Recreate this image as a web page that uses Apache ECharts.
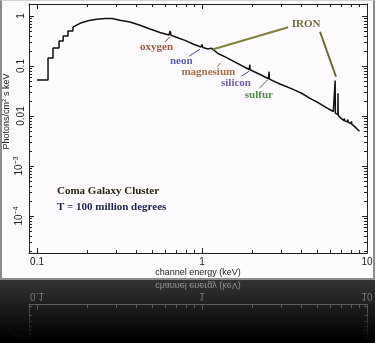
<!DOCTYPE html>
<html>
<head>
<meta charset="utf-8">
<script src="https://cdn.jsdelivr.net/npm/echarts@6/dist/echarts.min.js"></script>
<style>
    html, body { margin: 0; padding: 0; background: #000; }
    #wrap { position: relative; width: 375px; height: 343px; overflow: hidden; background: #000; }
    #panel { position: absolute; left: 0; top: 0; width: 375px; height: 280px; box-sizing: border-box;
        background: #fdfbfd; border: 2px solid #8c8c8c; border-top: 1px solid #d4d4d4; }
    #chart { position: absolute; left: 0; top: 0; width: 375px; height: 280px; }
    #refl { position: absolute; left: 0; top: 280px; width: 375px; height: 63px; overflow: hidden; background: #3a3a3a; }
    #chart2 { position: absolute; left: 0; top: -2px; width: 375px; height: 280px; transform: scaleY(-1); }
    #fade { position: absolute; left: 0; top: 0; width: 375px; height: 63px;
        background: linear-gradient(rgba(0, 0, 0, 0.1), rgba(0, 0, 0, 1) 95%); }
</style>
</head>
<body>
<div id="wrap">
    <div id="panel"></div>
    <div id="chart"></div>
    <div id="refl">
        <div id="chart2"></div>
        <div id="fade"></div>
    </div>
</div>
<script>
// 能谱数据 (keV, photons/cm2 s keV)
var spectrumEnergy = [
    0.100, 0.1166, 0.1166, 0.125, 0.125, 0.136, 0.136, 0.144, 0.144, 0.154, 0.154, 0.165, 0.165,
    0.182, 0.204, 0.230, 0.258, 0.285, 0.318, 0.366, 0.421, 0.484, 0.556, 0.631, 0.641, 0.650,
    0.706, 0.789, 0.882, 0.986, 1.000, 1.012, 1.087, 1.100, 1.110, 1.140, 1.150, 1.25, 1.41, 1.42, 1.43,
    1.65, 1.93, 1.95, 1.955, 2.25, 2.53, 2.55, 2.56, 2.97, 3.57, 4.04, 4.51, 5.05, 5.70, 6.25,
    6.40, 6.41, 6.43, 6.66, 6.67, 6.69, 6.85, 7.00, 7.25, 7.30, 7.35, 7.60, 7.65, 7.70,
    8.00, 8.05, 8.10, 8.40, 8.86, 9.00
]
var spectrumFlux = [
    0.0525, 0.0525, 0.1445, 0.1445, 0.229, 0.229, 0.316, 0.316, 0.398, 0.398, 0.50, 0.50, 0.60,
    0.715, 0.805, 0.859, 0.891, 0.887, 0.82, 0.759, 0.652, 0.55, 0.468, 0.417, 0.50, 0.41,
    0.372, 0.325, 0.275, 0.24, 0.27, 0.235, 0.219, 0.232, 0.215, 0.228, 0.208, 0.178, 0.147, 0.158, 0.144,
    0.112, 0.0851, 0.106, 0.084, 0.0676, 0.0557, 0.077, 0.0548, 0.0437, 0.034, 0.0282, 0.0225, 0.0186, 0.0145, 0.0123,
    0.0117, 0.051, 0.0114, 0.0107, 0.0285, 0.0105, 0.0094, 0.0088, 0.0081, 0.0089, 0.0079, 0.0077, 0.0085, 0.0075,
    0.0071, 0.0078, 0.0068, 0.0062, 0.0052, 0.0050
]

// 坐标轴范围与刻度
var xRange = [0.0894, 10]
var yRange = [1.82e-5, 1.738]
var xTickValues = [0.1, 1, 10]
var xTickLabels = ['0.1', '1', '10']
var yTickValues = [1e-4, 1e-3, 0.01, 0.1, 1]
var yTickLabels = ['10{sup|−4}', '10{sup|−3}', '0.01', '0.1', '1']
var xMinorTicks = [0.2, 0.3, 0.4, 0.5, 0.6, 0.7, 0.8, 0.9, 2, 3, 4, 5, 6, 7, 8, 9]
var yMinorTicks = [
    2e-5, 3e-5, 4e-5, 5e-5, 6e-5, 7e-5, 8e-5, 9e-5,
    2e-4, 3e-4, 4e-4, 5e-4, 6e-4, 7e-4, 8e-4, 9e-4,
    0.002, 0.003, 0.004, 0.005, 0.006, 0.007, 0.008, 0.009,
    0.02, 0.03, 0.04, 0.05, 0.06, 0.07, 0.08, 0.09,
    0.2, 0.3, 0.4, 0.5, 0.6, 0.7, 0.8, 0.9
]

// 谱线标注
var lineNames = ['oxygen', 'neon', 'magnesium', 'silicon', 'sulfur', 'IRON']
var lineNameAt = [[0.53, 0.234], [0.749, 0.125], [1.092, 0.074], [1.607, 0.046], [2.21, 0.0267], [4.28, 0.676]]
var lineColors = ['#8b2c12', '#2a36a3', '#8e4a1c', '#4d3199', '#2f6b26', '#4e4514']
var pointers = [
    [[0.597, 0.306], [0.64, 0.385], '#8b2c12', 1],
    [[0.838, 0.158], [0.972, 0.216], '#3a46b3', 1],
    [[1.238, 0.097], [1.298, 0.116], '#a0562a', 1],
    [[1.739, 0.063], [1.935, 0.079], '#5a3ea8', 1],
    [[2.225, 0.0358], [2.49, 0.0525], '#3a7a30', 1],
    [[3.33, 0.594], [1.17, 0.216], '#858140', 2.2],
    [[5.19, 0.485], [6.49, 0.061], '#6e6a34', 2]
]

function pairs(xs, ys) {
    var out = []
    for (var i = 0; i < xs.length; i++) {
        out.push([xs[i], ys[i]])
    }
    return out
}

function tickFormatter(values, labels) {
    return function (v) {
        for (var i = 0; i < values.length; i++) {
            if (Math.abs(Math.log10(v) - Math.log10(values[i])) < 1e-6) {
                return labels[i]
            }
        }
        return ''
    }
}

function tickLine(x1, y1, x2, y2, ink) {
    return { type: 'line', shape: { x1: x1, y1: y1, x2: x2, y2: y2 }, style: { stroke: ink, lineWidth: 1 } }
}

function minorTickSeries(dim, values, ink) { // 对数副刻度
    return {
        type: 'custom',
        silent: true,
        clip: false,
        xAxisIndex: 0,
        yAxisIndex: 0,
        data: values.map(function (v) { return dim === 'x' ? [v, yRange[0]] : [xRange[0], v] }),
        renderItem: function (params, api) {
            var a, b
            if (dim === 'x') {
                a = api.coord([api.value(0), yRange[0]])
                b = api.coord([api.value(0), yRange[1]])
                var x = Math.round(a[0]) + 0.5
                return { type: 'group', children: [
                    tickLine(x, a[1], x, a[1] - 3, ink), tickLine(x, b[1], x, b[1] + 3, ink)] }
            }
            a = api.coord([xRange[0], api.value(1)])
            b = api.coord([xRange[1], api.value(1)])
            var y = Math.round(a[1]) + 0.5
            return { type: 'group', children: [
                tickLine(a[0], y, a[0] + 3, y, ink), tickLine(b[0], y, b[0] - 3, y, ink)] }
        }
    }
}

// 简易 extend
var $ = {
    extend: function (target) {
        for (var i = 1; i < arguments.length; i++) {
            var src = arguments[i]
            for (var k in src) {
                target[k] = src[k]
            }
        }
        return target
    },
}

function buildOption(ink, full) {
    var sans = '"Liberation Sans", Arial, sans-serif'
    var serif = '"Liberation Serif", "Times New Roman", serif'
    var axisLine = { show: true, onZero: false, lineStyle: { color: ink, width: 1 } }
    var axisTick = { show: true, inside: true, length: 5, lineStyle: { color: ink } }
    var xBase = { type: 'log', min: xRange[0], max: xRange[1], axisLine: axisLine, axisTick: axisTick,
        splitLine: { show: false }, nameMoveOverlap: false }
    var yBase = { type: 'log', min: yRange[0], max: yRange[1], axisLine: axisLine, axisTick: axisTick,
        splitLine: { show: false }, nameMoveOverlap: false }
    var series = [minorTickSeries('x', xMinorTicks, ink), minorTickSeries('y', yMinorTicks, ink)]

    if (full) {
        series.push({
            type: 'line',
            data: pairs(spectrumEnergy, spectrumFlux),
            showSymbol: false,
            symbol: 'none',
            lineStyle: { color: '#111', width: 1.5 },
            silent: true,
            z: 3,
        })
        series.push({
            type: 'scatter',
            symbolSize: 0,
            silent: true,
            z: 4,
            data: lineNames.map(function (n, i) {
                return {
                    value: lineNameAt[i],
                    label: { show: true, position: 'inside', formatter: n, color: lineColors[i],
                        fontFamily: serif, fontWeight: 'bold', fontSize: 11 },
                }
            }),
            markLine: {
                silent: true,
                symbol: ['none', 'none'],
                label: { show: false },
                data: pointers.map(function (p) {
                    return [
                        { coord: p[0], lineStyle: { color: p[2], width: p[3], type: 'solid' } },
                        { coord: p[1] },
                    ]
                }),
            },
        })
    }

    return {
        backgroundColor: 'transparent',
        animation: false,
        grid: { left: 29, top: 4, width: 338, height: 249, outerBoundsMode: 'none' },
        xAxis: [
            $.extend({}, xBase, {
                position: 'bottom',
                name: 'channel energy (keV)',
                nameLocation: 'middle',
                nameGap: 15,
                nameTextStyle: { color: ink, fontFamily: sans, fontSize: 9 },
                axisLabel: { show: true, margin: 4, color: ink, fontFamily: sans, fontSize: 10,
                    formatter: tickFormatter(xTickValues, xTickLabels) },
            }),
            $.extend({}, xBase, { position: 'top', axisLabel: { show: false } }),
        ],
        yAxis: [
            $.extend({}, yBase, {
                position: 'left',
                name: 'Photons/cm{sup|2} s keV',
                nameLocation: 'middle',
                nameGap: 17,
                nameTextStyle: { color: ink, fontFamily: sans, fontSize: 9, padding: [0, 0, 0, 34],
                    rich: { sup: { fontSize: 6, fontFamily: sans, color: ink, padding: [0, 0, 5, 0] } } },
                axisLabel: { show: true, rotate: 90, margin: 3, color: ink, fontFamily: sans, fontSize: 10,
                    formatter: tickFormatter(yTickValues, yTickLabels),
                    rich: { sup: { fontSize: 7, fontFamily: sans, color: ink, padding: [0, 0, 6, 0] } } },
            }),
            $.extend({}, yBase, { position: 'right', axisLabel: { show: false } }),
        ],
        graphic: full ? [
            { type: 'text', left: 57, top: 186, silent: true,
                style: { text: 'Coma Galaxy Cluster', font: 'bold 11px ' + serif, fill: '#2b2510' } },
            { type: 'text', left: 57, top: 202, silent: true,
                style: { text: 'T = 100 million degrees', font: 'bold 11px ' + serif, fill: '#1c2052' } },
        ] : [],
        series: series,
    }
}

var mainChart = echarts.init(document.getElementById('chart'))
mainChart.setOption(buildOption('#222', true))

// 倒影
var reflChart = echarts.init(document.getElementById('chart2'))
reflChart.setOption(buildOption('#b4b4b4', false))
</script>
</body>
</html>
